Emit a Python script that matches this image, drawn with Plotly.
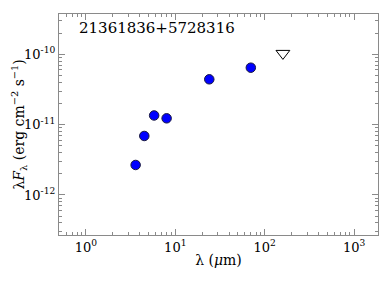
import numpy as np
import plotly.graph_objects as go

# Data
wavelength_um = [3.6, 4.5, 5.8, 8.0, 24.0, 70.0]
flux = [2.67e-12, 6.9e-12, 1.35e-11, 1.23e-11, 4.41e-11, 6.45e-11]
upper_wl = [160.0]
upper_flux = [1.03e-10]
source_name = "21361836+5728316"

x_tickvals = [1, 10, 100, 1000]
x_ticktext = ["10<sup>0</sup>", "10<sup>1</sup>", "10<sup>2</sup>", "10<sup>3</sup>"]
y_tickvals = [1e-12, 1e-11, 1e-10]
y_ticktext = ["10<sup>-12</sup>", "10<sup>-11</sup>", "10<sup>-10</sup>"]

FONT = "DejaVu Serif"
AX = "#8a8a8a"

fig = go.Figure()
fig.add_trace(go.Scatter(
    x=wavelength_um, y=flux, mode="markers",
    marker=dict(symbol="circle", size=9.5, color="#0000ff",
                line=dict(color="#1a1a40", width=1)),
    showlegend=False))
fig.add_trace(go.Scatter(
    x=upper_wl, y=upper_flux, mode="markers",
    marker=dict(symbol="triangle-down-open", size=12, color="black",
                line=dict(color="#222222", width=1)),
    showlegend=False))

axis_common = dict(
    type="log", showgrid=False, zeroline=False, automargin=False,
    showline=True, linecolor=AX, linewidth=1.3, mirror="ticks",
    ticks="inside", ticklen=6, tickcolor=AX, tickwidth=1,
    tickfont=dict(family=FONT, size=13, color="black"),
    minor=dict(ticks="inside", ticklen=3, tickcolor=AX, dtick="D1", showgrid=False),
)

# page body has an 8px margin, so the figure is made 8px smaller
fig.update_layout(
    width=382, height=276,
    margin=dict(l=51, r=12, t=6, b=49),
    paper_bgcolor="white", plot_bgcolor="white",
    font=dict(family=FONT, color="black"),
    xaxis=dict(axis_common, range=[np.log10(0.5), 3.268],
               tickvals=x_tickvals, ticktext=x_ticktext,
               title=dict(text="λ (<i>μ</i>m)", font=dict(family=FONT, size=14), standoff=1)),
    yaxis=dict(axis_common, range=[-12.569, -9.427],
               tickvals=y_tickvals, ticktext=y_ticktext),
    annotations=[
        dict(text=source_name, xref="paper", yref="paper",
             x=0.056, y=0.937, xanchor="left", yanchor="middle",
             showarrow=False, font=dict(family=FONT, size=15, color="black")),
        dict(text="λ<i>F</i><sub>λ</sub> (erg cm<sup>−2</sup> s<sup>−1</sup>)",
             xref="paper", yref="paper", x=0, y=0.5, xshift=-40,
             xanchor="center", yanchor="middle", textangle=-90,
             showarrow=False, font=dict(family=FONT, size=14, color="black")),
    ],
)

fig.write_html("out.html")
